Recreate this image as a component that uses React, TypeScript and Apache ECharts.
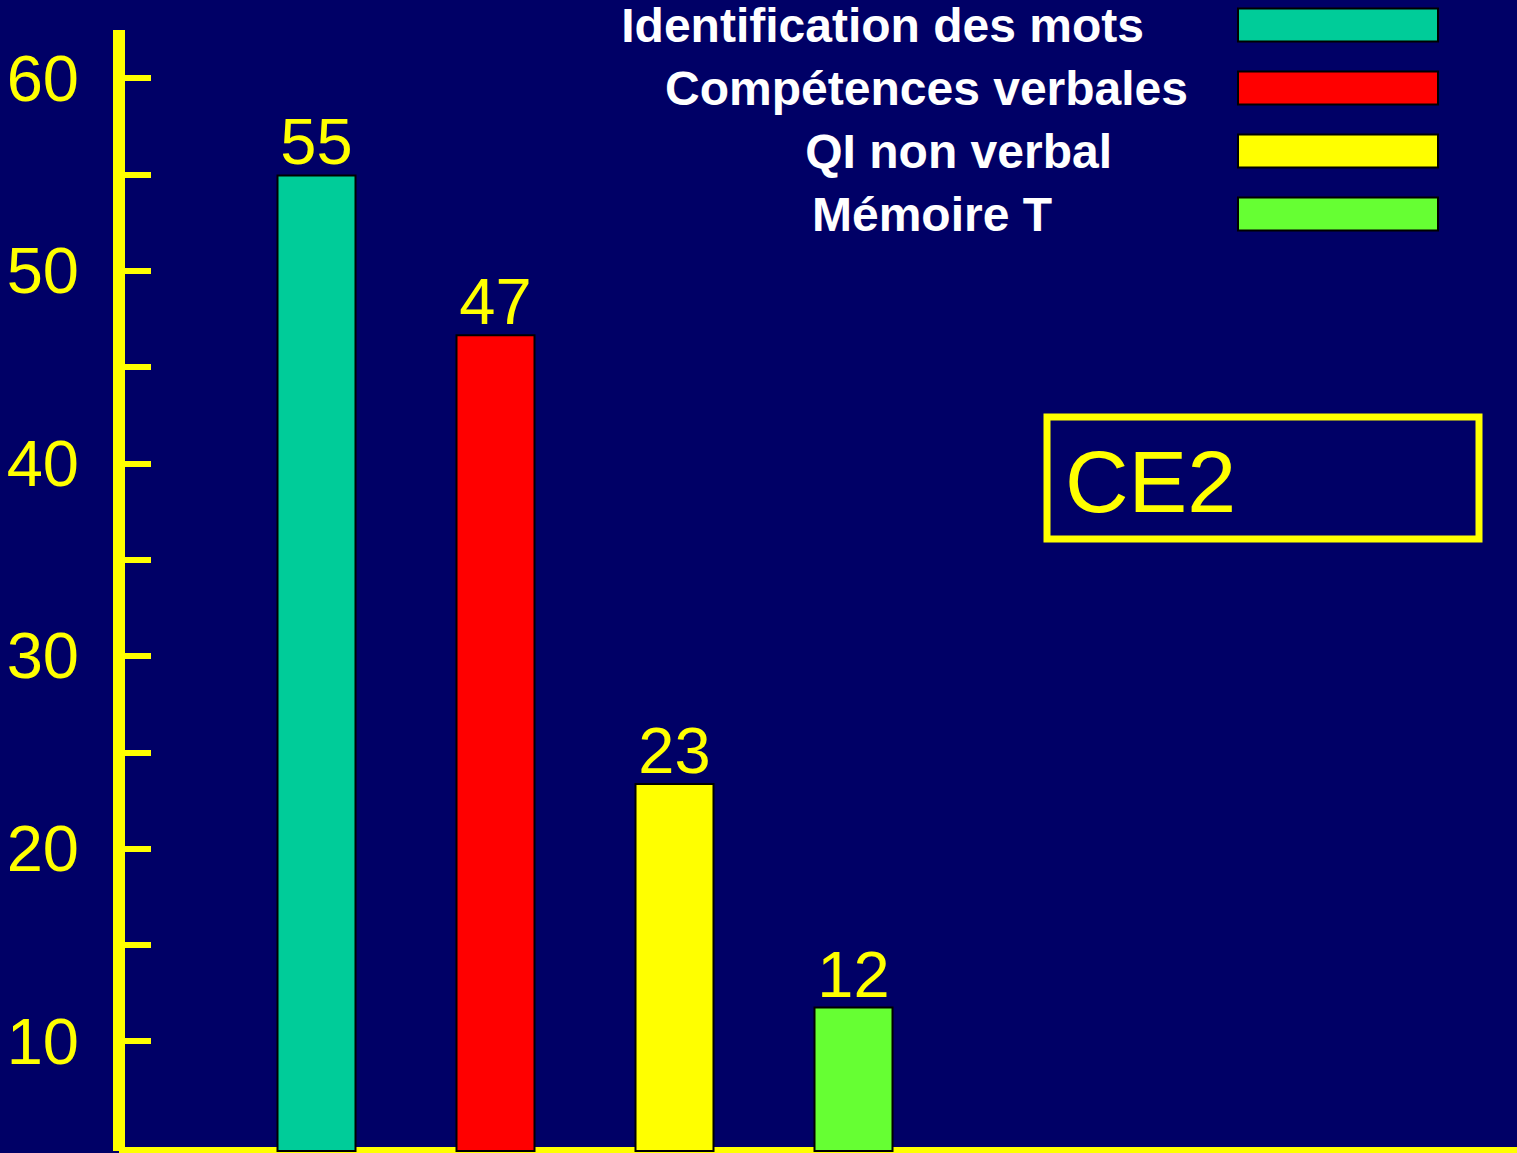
import React, { useEffect, useRef } from 'react';
import * as echarts from 'echarts';

// ---- data ----
const seriesNames = ['Identification des mots', 'Compétences verbales', 'QI non verbal', 'Mémoire T'];
const seriesValues = [55, 46.7, 23.4, 11.8];
const seriesColors = ['#00CC99', '#FF0000', '#FFFF00', '#66FF33'];
const yTickValues = [10, 15, 20, 25, 30, 35, 40, 45, 50, 55, 60];
const yLabelValues = [10, 20, 30, 40, 50, 60];
const yMin = 4.3;
const yMax = 62.5;
const boxLabel = 'CE2';

const FONT = '"Liberation Sans", Arial, Helvetica, sans-serif';
const YELLOW = '#FFFF00';
const BG = '#000066';

export default function App() {
  const ref = useRef<HTMLDivElement>(null);

  useEffect(() => {
    if (!ref.current) return;
    const chart = echarts.init(ref.current, undefined, { renderer: 'svg' });
    const legendPads = [89, 45, 121, 181];

    const option: any = {
      animation: false,
      backgroundColor: BG,
      grid: [
        { left: 119, right: 0, top: 30, bottom: 2 },
        { left: 227, right: 574, top: 30, bottom: 2 },
      ],
      xAxis: [
        {
          gridIndex: 0,
          type: 'value',
          min: 0,
          max: 1,
          axisLine: { show: true, onZero: false, lineStyle: { color: YELLOW, width: 8, cap: 'butt' } },
          axisTick: { show: false },
          axisLabel: { show: false },
          splitLine: { show: false },
        },
        { gridIndex: 1, type: 'category', data: seriesNames, show: false },
      ],
      yAxis: [
        {
          gridIndex: 0,
          type: 'value',
          min: yMin,
          max: yMax,
          axisLine: { show: true, onZero: false, lineStyle: { color: YELLOW, width: 12, cap: 'butt' } },
          axisTick: {
            show: true,
            inside: true,
            length: 32,
            customValues: yTickValues,
            lineStyle: { color: YELLOW, width: 6, cap: 'butt' },
          },
          axisLabel: {
            customValues: yLabelValues,
            color: YELLOW,
            fontSize: 65,
            fontFamily: FONT,
            margin: 40,
          },
          splitLine: { show: false },
        },
        { gridIndex: 1, type: 'value', min: yMin, max: yMax, show: false },
      ],
      legend: {
        orient: 'vertical',
        right: 78,
        top: 1,
        align: 'right',
        padding: 0,
        itemWidth: 200,
        itemHeight: 33,
        itemGap: 15,
        icon: 'rect',
        selectedMode: false,
        textStyle: { color: '#FFFFFF', fontSize: 48, fontWeight: 'bold', fontFamily: FONT, lineHeight: 48 },
        data: seriesNames.map((name, i) => ({ name, textStyle: { padding: [0, legendPads[i], 0, 0] } })),
      },
      series: seriesNames.map((name, i) => ({
        name,
        type: 'bar',
        xAxisIndex: 1,
        yAxisIndex: 1,
        data: seriesNames.map((_, j) => (j === i ? seriesValues[i] : null)),
        barWidth: 80,
        barGap: '-100%',
        itemStyle: { color: seriesColors[i], borderColor: '#000000', borderWidth: 2 },
        label: {
          show: true,
          position: 'top',
          distance: 0,
          color: YELLOW,
          fontSize: 65,
          lineHeight: 65,
          fontFamily: FONT,
          formatter: (p: any) => String(Math.round(p.value)),
        },
      })),
      graphic: [
        {
          type: 'rect',
          shape: { x: 1047, y: 417, width: 432, height: 122 },
          style: { fill: 'transparent', stroke: YELLOW, lineWidth: 7 },
        },
        {
          type: 'text',
          x: 1065,
          y: 481,
          style: { text: boxLabel, fill: YELLOW, font: `88px ${FONT}`, verticalAlign: 'middle', align: 'left' },
        },
      ],
    };
    chart.setOption(option);
    return () => chart.dispose();
  }, []);

  return (
    <div
      ref={ref}
      style={{ position: 'fixed', left: 0, top: 0, width: 1517, height: 1153 }}
    />
  );
}
